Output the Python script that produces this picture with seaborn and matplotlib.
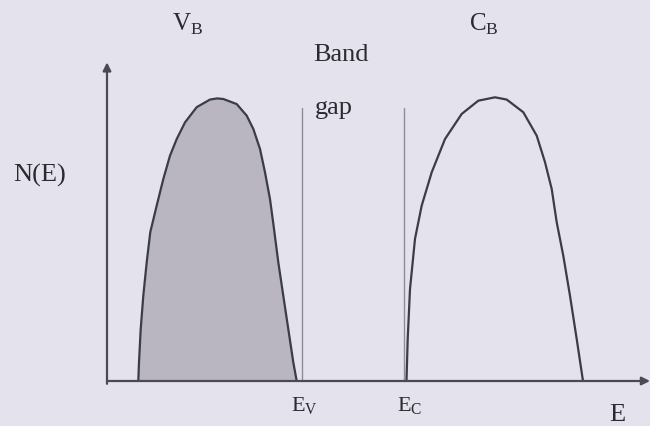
import numpy as np
import pandas as pd
import seaborn as sns
import matplotlib
matplotlib.use("Agg")
import matplotlib.pyplot as plt

# Density of states N(E) for the valence band (filled) and conduction band (empty)
vb_energy = [0.313, 0.32, 0.337, 0.363, 0.397, 0.433, 0.497, 0.563, 0.63, 0.697,
             0.78, 0.897, 1.03, 1.10, 1.163, 1.297, 1.397, 1.463, 1.53, 1.58,
             1.63, 1.665, 1.713, 1.763, 1.813, 1.863, 1.897]
vb_density = [0.0, 0.066, 0.184, 0.302, 0.421, 0.528, 0.622, 0.716, 0.799, 0.858,
              0.917, 0.971, 0.998, 1.002, 1.0, 0.982, 0.941, 0.894, 0.823, 0.740,
              0.645, 0.553, 0.421, 0.302, 0.184, 0.066, 0.0]

cb_energy = [2.995, 3.007, 3.03, 3.08, 3.147, 3.247, 3.38, 3.547, 3.713, 3.88,
             3.997, 4.163, 4.297, 4.38, 4.447, 4.497, 4.563, 4.63, 4.697, 4.757, 4.76]
cb_density = [0.0, 0.149, 0.326, 0.504, 0.622, 0.740, 0.858, 0.947, 0.994, 1.006,
              0.998, 0.953, 0.870, 0.776, 0.681, 0.563, 0.444, 0.302, 0.149, 0.007, 0.0]

# Band edges
e_v = 1.947
e_c = 2.973
edge_top = 0.968

BG = "#e4e2ec"
LINE = "#3c3c44"

sns.set_theme(style="white")
plt.rcParams["font.family"] = ["Liberation Serif", "DejaVu Serif"]
plt.rcParams["mathtext.fontset"] = "custom"
plt.rcParams["mathtext.rm"] = "Liberation Serif"

fig = plt.figure(figsize=(6.5, 4.27), dpi=100, facecolor=BG)
ax = fig.add_axes([0, 0, 1, 1], facecolor=BG)
ax.set_xlim(-1.07, 5.43)
ax.set_ylim(-0.1596, 1.3546)
ax.set_axis_off()

vb = pd.DataFrame({"E": vb_energy, "N": vb_density})
cb = pd.DataFrame({"E": cb_energy, "N": cb_density})

ax.fill_between(vb["E"], 0, vb["N"], color="#b9b6c1", lw=0, zorder=1)
sns.lineplot(data=vb, x="E", y="N", sort=False, color=LINE, lw=1.6, ax=ax, zorder=3)
sns.lineplot(data=cb, x="E", y="N", sort=False, color=LINE, lw=1.6, ax=ax, zorder=3)

# Band edge markers
ax.plot([e_v, e_v], [0, edge_top], color="#8e8c96", lw=1.0, zorder=2)
ax.plot([e_c, e_c], [0, edge_top], color="#8e8c96", lw=1.0, zorder=2)

# Axes with arrows
arrow = dict(arrowstyle="-|>", color="#4a4a52", lw=1.6, mutation_scale=12,
             shrinkA=0, shrinkB=0)
ax.annotate("", xy=(0, 1.13), xytext=(0, -0.01), arrowprops=arrow)
ax.annotate("", xy=(5.43, 0), xytext=(0, 0), arrowprops=arrow)

ink = "#2a2a30"
ax.text(0.81, 1.268, r"V$_{\mathrm{B}}$", ha="center", va="center", color=ink, fontsize=18)
ax.text(3.77, 1.268, r"C$_{\mathrm{B}}$", ha="center", va="center", color=ink, fontsize=18)
ax.text(2.34, 1.16, "Band", ha="center", va="center", color=ink, fontsize=19)
ax.text(2.27, 0.973, "gap", ha="center", va="center", color=ink, fontsize=19)
ax.text(-0.67, 0.734, "N(E)", ha="center", va="center", color=ink, fontsize=19)
ax.text(1.975, -0.085, r"E$_{\mathrm{V}}$", ha="center", va="center", color=ink, fontsize=16)
ax.text(3.03, -0.085, r"E$_{\mathrm{C}}$", ha="center", va="center", color=ink, fontsize=16)
ax.text(5.10, -0.117, "E", ha="center", va="center", color=ink, fontsize=19)

fig.savefig("out.png", dpi=100, facecolor=BG)
